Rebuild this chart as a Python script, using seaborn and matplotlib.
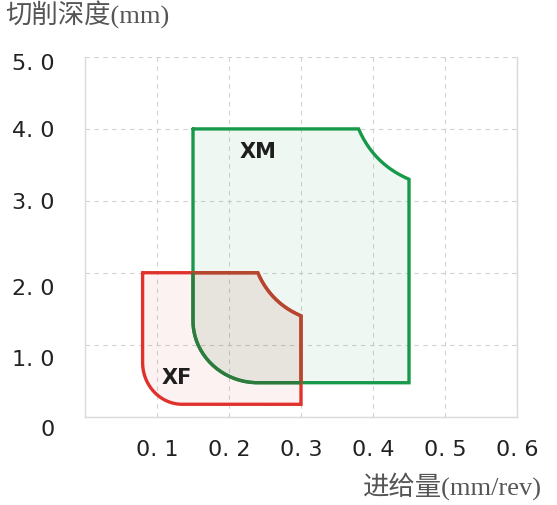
import numpy as np
import pandas as pd
import seaborn as sns
import matplotlib
matplotlib.use("Agg")
import matplotlib.pyplot as plt
import matplotlib.transforms as mtransforms
from matplotlib.path import Path
from matplotlib.patches import PathPatch

# axis ticks
feed_ticks = [0.1, 0.2, 0.3, 0.4, 0.5, 0.6]
feed_tick_labels = ["0. 1", "0. 2", "0. 3", "0. 4", "0. 5", "0. 6"]
depth_ticks = [0, 1, 2, 3, 4, 5]
depth_tick_labels = ["0", "1. 0", "2. 0", "3. 0", "4. 0", "5. 0"]

# chipbreaker application windows (feed mm/rev, depth of cut mm)
grades = ["XM", "XF"]
feed_min = [0.15, 0.08]
feed_max = [0.45, 0.30]
depth_min = [0.47, 0.17]
depth_max = [4.0, 2.0]
# upper-right bevel: top edge bends at feed_top_bend, meets right edge at depth_right_bend
feed_top_bend = [0.38, 0.24]
depth_right_bend = [3.30, 1.40]
# rounded lower-left corner
depth_left_bend = [1.33, 0.75]
feed_bottom_bend = [0.24, 0.135]
# grade name positions
label_feed = [0.24, 0.128]
label_depth = [3.68, 0.53]

edge_colors = {"XM": "#17994a", "XF": "#e0322c"}
fill_colors = {"XM": (0.10, 0.60, 0.28, 0.07), "XF": (0.88, 0.19, 0.17, 0.06)}
shade_colors = {"XM": "#2f7a3d", "XF": "#b4472f"}


def window_path(i):
    f0, f1 = feed_min[i], feed_max[i]
    d0, d1 = depth_min[i], depth_max[i]
    ft, dr = feed_top_bend[i], depth_right_bend[i]
    dl, fb = depth_left_bend[i], feed_bottom_bend[i]
    k = 0.55
    verts = [
        (f0, d1), (ft, d1),
        (ft + 0.3 * (f1 - ft), d1 + 0.7 * (dr - d1)), (f1, dr),
        (f1, d0), (fb, d0),
        (fb - k * (fb - f0), d0), (f0, dl - k * (dl - d0)), (f0, dl),
        (f0, d1),
    ]
    codes = [Path.MOVETO, Path.LINETO,
             Path.CURVE3, Path.CURVE3,
             Path.LINETO, Path.LINETO,
             Path.CURVE4, Path.CURVE4, Path.CURVE4,
             Path.LINETO]
    return Path(verts, codes)


def outline_frame(path):
    pts = []
    for seg, _ in path.iter_bezier():
        n = 2 if seg.degree == 1 else 40
        pts.append(seg(np.linspace(0, 1, n)))
    pts = np.vstack(pts)
    return pd.DataFrame({"feed": pts[:, 0], "depth": pts[:, 1]})


sns.set_theme(style="whitegrid", rc={
    "grid.linestyle": (0, (4, 4)),
    "grid.color": "#d2d2d2",
    "grid.linewidth": 0.8,
    "axes.edgecolor": "#dadada",
    "axes.linewidth": 1.0,
})

fig, ax = plt.subplots(figsize=(5.57, 5.05), dpi=100)
fig.subplots_adjust(left=0.1526, right=0.9282, bottom=0.1752, top=0.8871)

paths = {g: window_path(i) for i, g in enumerate(grades)}
frames = {g: outline_frame(paths[g]) for g in grades}
clips = {g: PathPatch(paths[g], transform=ax.transData) for g in grades}

# light fills of each window
for g in grades:
    ax.fill(frames[g]["feed"], frames[g]["depth"], color=fill_colors[g], lw=0, zorder=2)

# common region of both windows
ov = ax.fill(frames["XF"]["feed"], frames["XF"]["depth"], color=(0.50, 0.34, 0.28, 0.05), lw=0, zorder=2)[0]
ov.set_clip_path(clips["XM"])

# outlines
for g in grades:
    sns.lineplot(data=frames[g], x="feed", y="depth", sort=False, estimator=None,
                 color=edge_colors[g], lw=2.4, ax=ax, zorder=3)
    ax.lines[-1].set_solid_joinstyle("miter")

# outlines darkened where they run through the other window
for g, other in (("XF", "XM"), ("XM", "XF")):
    sns.lineplot(data=frames[g], x="feed", y="depth", sort=False, estimator=None,
                 color=shade_colors[g], lw=2.4, ax=ax, zorder=4)
    ln = ax.lines[-1]
    ln.set_solid_joinstyle("miter")
    ln.set_clip_path(clips[other])

for i, g in enumerate(grades):
    ax.text(label_feed[i], label_depth[i], g, ha="center", va="center",
            fontsize=15, fontweight="bold", color="#1e1e1e", zorder=5)

ax.set_xlim(0, 0.6)
ax.set_ylim(0, 5)
ax.set_xticks(feed_ticks)
ax.set_xticklabels(feed_tick_labels)
ax.set_yticks(depth_ticks)
ax.set_yticklabels(depth_tick_labels)
ax.tick_params(axis="both", length=0, labelsize=16, labelcolor="#222222")
ax.tick_params(axis="x", pad=17)
ax.tick_params(axis="y", pad=22)
ax.set_xlabel("")
ax.set_ylabel("")
ax.spines["top"].set_visible(False)
ax.grid(True, zorder=0)
ax.set_axisbelow(True)

# the lower depth labels sit slightly below their grid lines
label_drop_pt = [8.5, 9.5, 10, 0, 0, 3.5]
for lab, drop in zip(ax.get_yticklabels(), label_drop_pt):
    lab.set_transform(lab.get_transform()
                      + mtransforms.ScaledTranslation(0, -drop / 72, fig.dpi_scale_trans))

title_font = ["Liberation Serif", "Noto Sans CJK SC"]
fig.text(5 / 557, 1 - 15 / 505, "切削深度(mm)", ha="left", va="center",
         fontsize=19, color="#555555", family=title_font)
fig.text(542 / 557, 1 - 486 / 505, "进给量(mm/rev)", ha="right", va="center",
         fontsize=19, color="#555555", family=title_font)

fig.savefig("out.png", dpi=100)
